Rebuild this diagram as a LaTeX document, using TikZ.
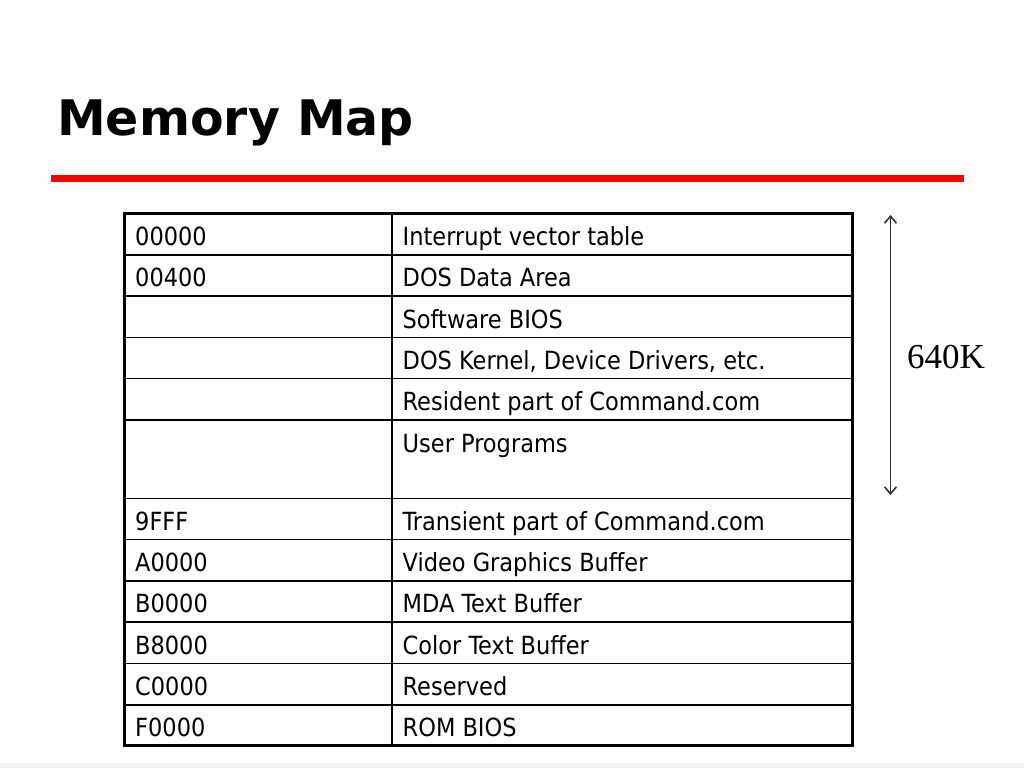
\documentclass[tikz,border=0pt]{standalone}
\usepackage{fontspec}
\setmainfont{DejaVu Sans Condensed}
\newfontfamily\headfont{DejaVu Sans}
\newfontfamily\sizefont{Liberation Serif}
\usetikzlibrary{arrows.meta}
\tikzset{cell/.style={anchor=base west,inner sep=0pt,font=\fontsize{25}{30}\selectfont}}
\tikzset{rowline/.style={line width=1.5pt}}
\tikzset{frameline/.style={line width=3pt}}

\begin{document}
\begin{tikzpicture}[x=1pt,y=-1pt]
  \useasboundingbox (0,0) rectangle (1024,768);
  \fill[black!6] (0,763) rectangle (1024,768);

  \node [anchor=base west,inner sep=0pt,font=\headfont\bfseries\fontsize{49}{58}\selectfont]
    (title) at (57,135) {Memory Map};
  \fill[red] (51,175) rectangle (964,182);

  \coordinate (tl)  at (124,213.5);
  \coordinate (br)  at (852.5,745.5);
  \coordinate (ct)  at (392,213.5);
  \coordinate (cb)  at (392,745.5);

  \foreach \y in {254.8,296.1,337.4,378.7,420,498.3,539.6,580.9,622.2,663.5,704.8}
    \draw [rowline] (124,\y) -- (852.5,\y);
  \draw [rowline] (ct) -- (cb);
  \draw [frameline] (tl) rectangle (br);

  \foreach \i/\t/\adr/\txt in {1/213.5/00000/Interrupt vector table,
      2/254.8/00400/DOS Data Area,
      3/296.1/{}/Software BIOS,
      4/337.4/{}/{DOS Kernel, Device Drivers, etc.},
      5/378.7/{}/Resident part of Command.com,
      6/420/{}/User Programs,
      7/498.3/9FFF/Transient part of Command.com,
      8/539.6/A0000/Video Graphics Buffer,
      9/580.9/B0000/MDA Text Buffer,
      10/622.2/B8000/Color Text Buffer,
      11/663.5/C0000/Reserved,
      12/704.8/F0000/ROM BIOS}
  {
    \node [cell] (adr\i) at (135,\t+32) {\adr};
    \node [cell] (use\i) at (402.5,\t+32) {\txt};
  }

  \coordinate (up) at (890.5,215);
  \coordinate (dn) at (890.5,495);
  \draw [{Straight Barb[length=7pt,width=12pt]}-{Straight Barb[length=7pt,width=12pt]},
    line width=1.6pt,black!80] (up) -- (dn);
  \node [anchor=base west,inner sep=0pt,font=\sizefont\fontsize{35}{40}\selectfont]
    (size) at (907,368) {640K};
\end{tikzpicture}
\end{document}
